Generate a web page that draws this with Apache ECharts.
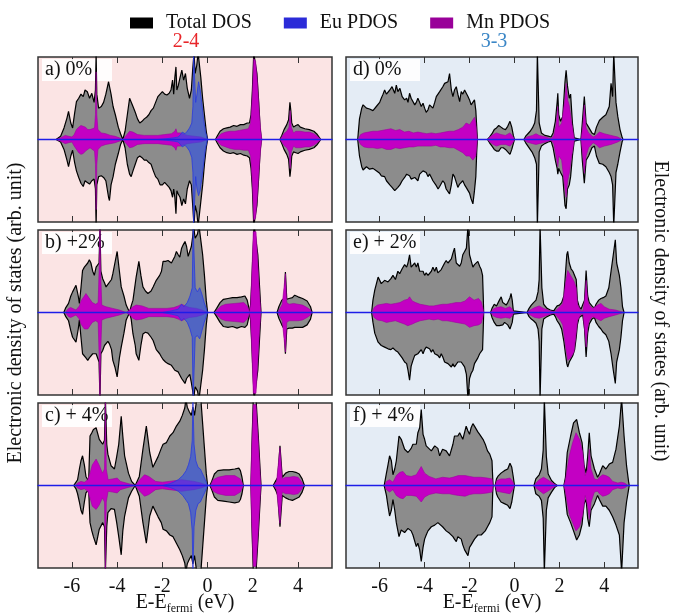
<!DOCTYPE html>
<html>
<head>
<meta charset="utf-8">
<script src="https://cdn.jsdelivr.net/npm/echarts@6/dist/echarts.min.js"></script>
<style>
  html, body { margin: 0; padding: 0; background: #fff; }
  #chart { width: 680px; height: 616px; }
</style>
</head>
<body>
<div id="chart"></div>
<script>
// energy ticks (eV)
const energyTicks = [-6, -4, -2, 0, 2, 4];
const legendNames = ['Total DOS', 'Eu PDOS', 'Mn PDOS'];
const groupTitles = ['2-4', '3-3'];
const panelLabels = ['a) 0%', 'b) +2%', 'c) + 4%', 'd) 0%', 'e) + 2%', 'f) + 4%'];

// each point: [energy, spin up, spin down] (arb. unit, 1 = panel half height)
const totalA = [[-6.7,0,0],[-6.5,0.04,0.03],[-6.35,0.14,0.12],[-6.22,0.26,0.25],[-6.15,0.34,0.33],[-6.05,0.2,0.2],[-5.97,0.14,0.13],[-5.88,0.32,0.28],[-5.8,0.46,0.38],[-5.7,0.5,0.46],[-5.6,0.55,0.53],[-5.5,0.52,0.57],[-5.42,0.6,0.5],[-5.32,0.58,0.52],[-5.22,0.5,0.54],[-5.12,0.56,0.5],[-5.02,0.45,0.48],[-4.96,0.6,0.6],[-4.93,1.05,1.05],[-4.9,0.55,0.55],[-4.82,0.38,0.45],[-4.7,0.4,0.44],[-4.6,0.45,0.46],[-4.5,0.55,0.5],[-4.38,0.7,0.7],[-4.34,0.72,0.74],[-4.27,0.55,0.55],[-4.18,0.4,0.45],[-4.08,0.3,0.3],[-3.95,0.15,0.17],[-3.85,0.07,0.06],[-3.75,0,0],[-3.65,0.1,0.1],[-3.55,0.3,0.3],[-3.45,0.5,0.42],[-3.38,0.48,0.45],[-3.3,0.4,0.38],[-3.2,0.33,0.3],[-3.1,0.25,0.22],[-3.0,0.2,0.2],[-2.9,0.22,0.22],[-2.8,0.25,0.25],[-2.7,0.27,0.25],[-2.6,0.3,0.28],[-2.5,0.35,0.3],[-2.4,0.38,0.38],[-2.3,0.45,0.45],[-2.2,0.52,0.48],[-2.1,0.55,0.55],[-2.0,0.58,0.55],[-1.9,0.55,0.52],[-1.8,0.54,0.55],[-1.7,0.56,0.58],[-1.62,0.6,0.62],[-1.55,0.72,0.7],[-1.5,0.55,0.6],[-1.45,0.75,0.7],[-1.4,0.88,0.9],[-1.36,0.6,0.62],[-1.3,0.65,0.66],[-1.22,0.75,0.7],[-1.14,0.84,0.8],[-1.06,0.72,0.72],[-0.98,0.8,0.78],[-0.9,0.62,0.6],[-0.8,0.5,0.5],[-0.72,0.6,0.55],[-0.66,0.85,0.8],[-0.6,1.05,1.05],[-0.55,0.8,0.8],[-0.48,0.9,0.88],[-0.42,1.05,1.05],[-0.36,1.05,1.05],[-0.3,0.75,0.75],[-0.22,0.5,0.55],[-0.14,0.3,0.3],[-0.06,0.1,0.1],[0,0,0],[0.35,0,0],[0.42,0.04,0.04],[0.55,0.1,0.1],[0.7,0.13,0.14],[0.85,0.14,0.16],[1.0,0.15,0.17],[1.15,0.17,0.16],[1.3,0.16,0.18],[1.45,0.18,0.17],[1.6,0.18,0.19],[1.75,0.2,0.2],[1.85,0.2,0.22],[1.92,0.3,0.35],[1.98,0.6,0.6],[2.04,1.05,1.05],[2.1,1.05,1.05],[2.18,0.8,0.8],[2.26,0.45,0.45],[2.32,0.15,0.15],[2.38,0,0],[3.2,0,0],[3.28,0.05,0.05],[3.38,0.12,0.12],[3.5,0.18,0.18],[3.58,0.24,0.24],[3.64,0.45,0.45],[3.68,0.35,0.35],[3.72,0.2,0.2],[3.8,0.15,0.15],[3.9,0.17,0.16],[4.0,0.18,0.17],[4.1,0.15,0.15],[4.3,0.13,0.13],[4.5,0.12,0.12],[4.7,0.1,0.1],[4.85,0.06,0.06],[4.95,0.02,0.02],[5.0,0,0]];
const mnA = [[-6.7,0,0],[-6.5,0.02,0.02],[-6.3,0.05,0.05],[-6.15,0.04,0.04],[-6.0,0.03,0.03],[-5.9,0.06,0.08],[-5.8,0.12,0.12],[-5.7,0.15,0.16],[-5.6,0.17,0.18],[-5.5,0.16,0.17],[-5.4,0.15,0.14],[-5.3,0.12,0.12],[-5.2,0.12,0.1],[-5.1,0.13,0.12],[-5.0,0.14,0.14],[-4.96,0.3,0.3],[-4.93,0.82,0.85],[-4.9,0.3,0.3],[-4.85,0.12,0.12],[-4.7,0.08,0.08],[-4.5,0.07,0.06],[-4.3,0.05,0.05],[-4.1,0.04,0.04],[-3.9,0.02,0.02],[-3.75,0,0],[-3.6,0.05,0.05],[-3.45,0.1,0.1],[-3.3,0.09,0.09],[-3.1,0.06,0.06],[-2.8,0.05,0.05],[-2.5,0.05,0.05],[-2.2,0.05,0.05],[-1.9,0.06,0.06],[-1.6,0.07,0.07],[-1.45,0.1,0.1],[-1.4,0.13,0.13],[-1.35,0.08,0.08],[-1.2,0.08,0.08],[-1.1,0.07,0.07],[-0.9,0.05,0.05],[-0.6,0.04,0.04],[-0.3,0.03,0.03],[0,0,0],[0.35,0,0],[0.45,0.03,0.03],[0.6,0.07,0.07],[0.8,0.09,0.09],[1.0,0.1,0.11],[1.2,0.1,0.12],[1.4,0.11,0.12],[1.6,0.12,0.13],[1.8,0.13,0.13],[1.9,0.2,0.2],[1.98,0.55,0.55],[2.04,0.98,0.98],[2.12,0.95,0.95],[2.2,0.7,0.7],[2.28,0.35,0.35],[2.35,0.1,0.1],[2.4,0,0],[3.2,0,0],[3.3,0.04,0.04],[3.4,0.08,0.08],[3.5,0.1,0.1],[3.6,0.15,0.15],[3.65,0.35,0.35],[3.7,0.15,0.15],[3.8,0.08,0.08],[3.9,0.1,0.1],[4.1,0.1,0.1],[4.3,0.09,0.09],[4.5,0.09,0.09],[4.7,0.07,0.07],[4.9,0.03,0.03],[5.0,0,0]];
const euA = [[-2.2,0,0],[-1.8,0.01,0.01],[-1.5,0.02,0.02],[-1.3,0.03,0.03],[-1.2,0.06,0.06],[-1.12,0.09,0.09],[-1.0,0.07,0.07],[-0.9,0.1,0.1],[-0.8,0.14,0.14],[-0.7,0.2,0.22],[-0.65,0.4,0.4],[-0.62,1.05,1.05],[-0.57,1.05,1.05],[-0.53,0.45,0.45],[-0.47,0.55,0.6],[-0.4,0.7,0.68],[-0.33,0.6,0.62],[-0.26,0.45,0.48],[-0.18,0.25,0.3],[-0.1,0.1,0.12],[-0.03,0.03,0.03],[0,0,0]];

const totalB = [[-6.36,0,0],[-6.27,0.06,0.05],[-6.15,0.11,0.1],[-6.05,0.2,0.22],[-5.97,0.25,0.3],[-5.82,0.33,0.36],[-5.72,0.2,0.2],[-5.67,0.11,0.09],[-5.6,0.3,0.3],[-5.53,0.51,0.5],[-5.45,0.55,0.52],[-5.38,0.57,0.55],[-5.3,0.6,0.58],[-5.23,0.64,0.55],[-5.16,0.6,0.54],[-5.08,0.5,0.5],[-5.01,0.45,0.5],[-4.93,0.55,0.5],[-4.86,0.56,0.49],[-4.8,0.6,0.6],[-4.76,1.05,1.05],[-4.72,0.5,0.5],[-4.64,0.41,0.46],[-4.56,0.36,0.4],[-4.49,0.31,0.38],[-4.41,0.34,0.35],[-4.34,0.33,0.38],[-4.25,0.4,0.45],[-4.19,0.47,0.58],[-4.1,0.6,0.66],[-4.0,0.74,0.78],[-3.9,0.5,0.55],[-3.82,0.31,0.42],[-3.7,0.2,0.25],[-3.6,0.09,0.09],[-3.45,0,0],[-3.38,0.08,0.08],[-3.3,0.15,0.26],[-3.2,0.35,0.4],[-3.16,0.43,0.5],[-3.04,0.62,0.58],[-2.95,0.45,0.4],[-2.86,0.31,0.26],[-2.75,0.26,0.24],[-2.64,0.23,0.25],[-2.5,0.26,0.3],[-2.41,0.31,0.34],[-2.27,0.39,0.45],[-2.12,0.45,0.5],[-2.04,0.5,0.54],[-1.97,0.62,0.57],[-1.86,0.62,0.6],[-1.75,0.63,0.62],[-1.67,0.63,0.64],[-1.6,0.6,0.64],[-1.53,0.59,0.66],[-1.45,0.68,0.7],[-1.38,0.74,0.7],[-1.3,0.7,0.72],[-1.23,0.67,0.74],[-1.15,0.78,0.8],[-1.08,0.82,0.82],[-1.0,0.86,0.86],[-0.93,0.8,0.8],[-0.86,0.68,0.78],[-0.79,0.7,0.75],[-0.72,0.8,0.85],[-0.66,0.92,0.95],[-0.62,1.05,1.05],[-0.55,0.9,0.9],[-0.45,0.95,0.95],[-0.38,1.05,1.05],[-0.3,1.05,1.05],[-0.22,0.7,0.7],[-0.14,0.45,0.45],[-0.06,0.15,0.15],[0,0,0],[0.28,0,0],[0.4,0.05,0.05],[0.55,0.12,0.12],[0.7,0.16,0.17],[0.9,0.17,0.18],[1.1,0.18,0.17],[1.3,0.18,0.19],[1.5,0.19,0.17],[1.65,0.2,0.18],[1.75,0.15,0.15],[1.83,0.05,0.05],[1.88,0,0],[1.94,0.3,0.3],[2.0,0.7,0.7],[2.06,1.05,1.05],[2.14,1.05,1.05],[2.22,0.7,0.7],[2.3,0.3,0.3],[2.36,0,0],[3.07,0,0],[3.15,0.07,0.07],[3.28,0.15,0.15],[3.38,0.17,0.2],[3.44,0.49,0.5],[3.5,0.16,0.2],[3.6,0.17,0.19],[3.75,0.18,0.19],[3.85,0.21,0.18],[4.0,0.19,0.18],[4.2,0.17,0.18],[4.4,0.14,0.15],[4.55,0.07,0.08],[4.62,0,0]];
const mnB = [[-6.3,0,0],[-6.15,0.05,0.05],[-6.05,0.06,0.06],[-5.97,0.06,0.06],[-5.82,0.03,0.03],[-5.67,0.08,0.08],[-5.6,0.14,0.14],[-5.53,0.17,0.17],[-5.45,0.2,0.2],[-5.38,0.23,0.22],[-5.3,0.2,0.2],[-5.23,0.19,0.18],[-5.1,0.12,0.12],[-4.95,0.1,0.1],[-4.84,0.12,0.12],[-4.79,0.6,0.6],[-4.76,1.05,1.05],[-4.73,0.5,0.5],[-4.68,0.09,0.09],[-4.5,0.07,0.07],[-4.2,0.05,0.05],[-3.9,0.03,0.03],[-3.6,0,0],[-3.45,0.03,0.03],[-3.3,0.07,0.07],[-3.16,0.09,0.09],[-2.9,0.08,0.08],[-2.6,0.05,0.05],[-2.2,0.05,0.05],[-1.8,0.05,0.05],[-1.5,0.06,0.06],[-1.3,0.08,0.08],[-1.15,0.1,0.1],[-1.0,0.08,0.08],[-0.8,0.06,0.06],[-0.5,0.05,0.05],[-0.25,0.03,0.03],[0,0,0],[0.3,0,0],[0.45,0.04,0.04],[0.6,0.08,0.08],[0.8,0.1,0.1],[1.2,0.11,0.11],[1.6,0.12,0.12],[1.75,0.08,0.08],[1.85,0.01,0.01],[1.9,0.1,0.1],[1.96,0.5,0.5],[2.02,0.98,0.98],[2.14,0.98,0.98],[2.22,0.6,0.6],[2.3,0.2,0.2],[2.36,0,0],[3.1,0,0],[3.2,0.05,0.05],[3.3,0.1,0.1],[3.38,0.11,0.12],[3.44,0.47,0.48],[3.5,0.12,0.12],[3.6,0.1,0.1],[3.8,0.11,0.1],[4.0,0.1,0.1],[4.2,0.09,0.09],[4.4,0.06,0.06],[4.55,0.03,0.03],[4.6,0,0]];
const euB = [[-2.0,0,0],[-1.6,0.02,0.02],[-1.3,0.04,0.04],[-1.15,0.1,0.1],[-1.05,0.07,0.07],[-0.9,0.12,0.12],[-0.78,0.2,0.2],[-0.68,0.3,0.3],[-0.64,1.05,1.05],[-0.6,1.05,1.05],[-0.55,0.3,0.3],[-0.45,0.25,0.28],[-0.35,0.3,0.32],[-0.25,0.22,0.22],[-0.15,0.12,0.12],[-0.05,0.04,0.04],[0,0,0]];

const totalC = [[-5.92,0,0],[-5.82,0.04,0.04],[-5.75,0.07,0.1],[-5.67,0.2,0.2],[-5.6,0.3,0.3],[-5.53,0.36,0.35],[-5.45,0.25,0.2],[-5.38,0.11,0.09],[-5.26,0.05,0.05],[-5.2,0.6,0.45],[-5.12,0.64,0.55],[-5.05,0.68,0.62],[-4.93,0.7,0.72],[-4.86,0.68,0.7],[-4.79,0.56,0.53],[-4.64,0.5,0.45],[-4.56,0.55,0.5],[-4.52,1.05,1.05],[-4.46,0.5,0.5],[-4.41,0.38,0.33],[-4.27,0.24,0.28],[-4.12,0.2,0.29],[-4.02,0.35,0.45],[-3.93,0.5,0.62],[-3.82,0.84,0.84],[-3.75,0.6,0.55],[-3.67,0.36,0.37],[-3.5,0.15,0.15],[-3.36,0.05,0.07],[-3.2,0,0],[-3.02,0.11,0.13],[-2.86,0.44,0.45],[-2.71,0.72,0.7],[-2.56,0.4,0.37],[-2.42,0.22,0.25],[-2.34,0.21,0.25],[-2.19,0.35,0.38],[-2.05,0.45,0.45],[-1.97,0.5,0.53],[-1.82,0.52,0.55],[-1.67,0.6,0.6],[-1.53,0.64,0.62],[-1.38,0.72,0.7],[-1.23,0.78,0.78],[-1.12,0.85,0.85],[-1.01,0.94,0.94],[-0.96,1.05,1.05],[-0.9,0.95,0.95],[-0.82,0.9,0.9],[-0.72,0.85,0.85],[-0.65,0.95,0.95],[-0.58,0.85,0.85],[-0.48,1.05,1.05],[-0.4,1.05,1.05],[-0.3,1.05,1.05],[-0.22,0.75,0.75],[-0.14,0.45,0.45],[-0.06,0.15,0.15],[0,0,0],[0.1,0,0],[0.18,0.05,0.05],[0.3,0.14,0.14],[0.45,0.18,0.18],[0.7,0.19,0.19],[0.95,0.19,0.2],[1.2,0.2,0.21],[1.38,0.21,0.2],[1.45,0.18,0.17],[1.52,0.1,0.1],[1.58,0,0],[1.92,0,0],[1.96,0.5,0.5],[2.02,1.05,1.05],[2.14,1.05,1.05],[2.24,0.6,0.6],[2.32,0.2,0.2],[2.36,0,0],[2.9,0,0],[3.0,0.05,0.05],[3.1,0.1,0.12],[3.2,0.48,0.5],[3.3,0.1,0.12],[3.45,0.15,0.15],[3.6,0.17,0.17],[3.75,0.17,0.18],[3.9,0.16,0.16],[4.05,0.14,0.14],[4.18,0.08,0.08],[4.28,0,0]];
const mnC = [[-5.85,0,0],[-5.75,0.03,0.03],[-5.6,0.05,0.05],[-5.45,0.04,0.04],[-5.3,0.07,0.07],[-5.2,0.15,0.15],[-5.1,0.25,0.25],[-4.93,0.32,0.29],[-4.8,0.25,0.24],[-4.65,0.15,0.15],[-4.56,0.2,0.2],[-4.52,1.05,1.05],[-4.48,0.2,0.2],[-4.4,0.07,0.07],[-4.2,0.08,0.08],[-4.0,0.09,0.09],[-3.85,0.05,0.05],[-3.6,0.03,0.03],[-3.2,0,0],[-3.0,0.07,0.07],[-2.79,0.13,0.13],[-2.6,0.11,0.11],[-2.3,0.05,0.05],[-2.0,0.04,0.04],[-1.7,0.05,0.05],[-1.4,0.06,0.06],[-1.15,0.07,0.07],[-0.9,0.06,0.06],[-0.6,0.05,0.05],[-0.3,0.03,0.03],[0,0,0],[0.12,0,0],[0.25,0.07,0.07],[0.45,0.1,0.1],[0.8,0.12,0.12],[1.2,0.12,0.12],[1.45,0.08,0.08],[1.58,0,0],[1.9,0,0],[1.95,0.45,0.45],[2.02,0.98,0.98],[2.14,0.98,0.98],[2.24,0.55,0.55],[2.32,0.15,0.15],[2.36,0,0],[2.92,0,0],[3.05,0.05,0.05],[3.2,0.46,0.46],[3.3,0.08,0.08],[3.45,0.1,0.1],[3.6,0.1,0.1],[3.8,0.11,0.11],[4.0,0.1,0.1],[4.15,0.05,0.05],[4.25,0,0]];
const euC = [[-2.0,0,0],[-1.7,0.02,0.02],[-1.5,0.04,0.04],[-1.3,0.07,0.07],[-1.1,0.12,0.12],[-0.95,0.18,0.18],[-0.85,0.25,0.22],[-0.75,0.35,0.33],[-0.68,0.55,0.55],[-0.65,1.05,1.05],[-0.6,0.5,0.5],[-0.52,0.3,0.3],[-0.42,0.22,0.22],[-0.32,0.2,0.2],[-0.22,0.14,0.14],[-0.12,0.08,0.08],[0,0,0]];

const totalD = [[-6.98,0,0],[-6.9,0.25,0.2],[-6.8,0.38,0.33],[-6.74,0.42,0.37],[-6.59,0.38,0.33],[-6.45,0.37,0.36],[-6.3,0.35,0.35],[-6.15,0.4,0.38],[-6.0,0.45,0.41],[-5.93,0.5,0.44],[-5.85,0.55,0.45],[-5.78,0.6,0.45],[-5.7,0.55,0.5],[-5.63,0.54,0.52],[-5.55,0.6,0.55],[-5.45,0.64,0.58],[-5.33,0.56,0.62],[-5.26,0.66,0.6],[-5.19,0.58,0.58],[-5.1,0.62,0.55],[-5.0,0.52,0.5],[-4.89,0.48,0.46],[-4.8,0.5,0.42],[-4.74,0.45,0.4],[-4.67,0.56,0.44],[-4.6,0.5,0.48],[-4.52,0.48,0.5],[-4.44,0.42,0.46],[-4.37,0.45,0.48],[-4.3,0.5,0.5],[-4.22,0.45,0.42],[-4.15,0.4,0.4],[-4.07,0.44,0.38],[-4.0,0.38,0.37],[-3.93,0.33,0.4],[-3.85,0.36,0.45],[-3.78,0.42,0.42],[-3.7,0.44,0.46],[-3.63,0.38,0.5],[-3.55,0.45,0.52],[-3.48,0.52,0.56],[-3.4,0.5,0.6],[-3.33,0.58,0.57],[-3.26,0.6,0.55],[-3.19,0.64,0.5],[-3.11,0.68,0.53],[-3.04,0.66,0.6],[-2.96,0.7,0.62],[-2.89,0.8,0.66],[-2.81,0.6,0.55],[-2.74,0.52,0.42],[-2.67,0.6,0.45],[-2.59,0.64,0.52],[-2.52,0.55,0.58],[-2.44,0.46,0.54],[-2.37,0.58,0.56],[-2.3,0.55,0.5],[-2.22,0.6,0.55],[-2.15,0.6,0.58],[-2.07,0.52,0.6],[-2.0,0.48,0.65],[-1.93,0.42,0.72],[-1.85,0.4,0.78],[-1.78,0.48,0.62],[-1.72,0.35,0.45],[-1.68,0.15,0.15],[-1.65,0,0],[-1.2,0,0],[-1.11,0.03,0.04],[-1.0,0.07,0.08],[-0.9,0.12,0.12],[-0.8,0.14,0.14],[-0.7,0.17,0.14],[-0.6,0.15,0.1],[-0.5,0.13,0.1],[-0.4,0.12,0.12],[-0.3,0.16,0.15],[-0.2,0.22,0.18],[-0.12,0.15,0.12],[-0.05,0.05,0.05],[0,0,0],[0.42,0,0],[0.5,0.04,0.04],[0.6,0.07,0.08],[0.7,0.1,0.12],[0.8,0.14,0.16],[0.9,0.2,0.22],[0.98,0.35,0.3],[1.02,1.05,1.05],[1.06,1.05,1.05],[1.1,0.2,0.15],[1.2,0.08,0.08],[1.35,0.05,0.05],[1.5,0.04,0.03],[1.63,0.03,0.02],[1.72,0.08,0.1],[1.82,0.22,0.25],[1.9,0.45,0.35],[1.93,0.56,0.42],[1.97,0.3,0.35],[2.05,0.22,0.4],[2.15,0.28,0.45],[2.25,0.7,0.8],[2.3,0.84,0.84],[2.36,0.65,0.6],[2.44,0.5,0.55],[2.5,0.55,0.45],[2.58,0.2,0.2],[2.66,0.02,0.02],[2.7,0,0],[2.96,0,0],[3.02,0.2,0.25],[3.11,0.52,0.53],[3.19,0.2,0.25],[3.3,0.15,0.2],[3.45,0.08,0.1],[3.56,0.06,0.08],[3.65,0.15,0.2],[3.78,0.23,0.29],[3.93,0.27,0.3],[4.07,0.3,0.33],[4.22,0.4,0.4],[4.3,0.68,0.45],[4.37,0.52,0.55],[4.42,1.05,1.05],[4.47,1.05,1.05],[4.52,0.45,0.4],[4.6,0.28,0.3],[4.7,0.12,0.15],[4.8,0.02,0.02],[4.83,0,0]];
const mnD = [[-6.96,0,0],[-6.85,0.06,0.06],[-6.7,0.08,0.09],[-6.5,0.09,0.1],[-6.3,0.1,0.1],[-6.1,0.1,0.11],[-5.9,0.11,0.1],[-5.7,0.12,0.12],[-5.5,0.13,0.12],[-5.3,0.11,0.1],[-5.1,0.12,0.11],[-4.9,0.09,0.1],[-4.7,0.1,0.09],[-4.5,0.08,0.09],[-4.3,0.09,0.08],[-4.1,0.08,0.08],[-3.9,0.07,0.08],[-3.7,0.08,0.08],[-3.5,0.07,0.07],[-3.3,0.08,0.09],[-3.1,0.09,0.09],[-2.9,0.1,0.1],[-2.7,0.1,0.1],[-2.5,0.12,0.13],[-2.3,0.15,0.16],[-2.15,0.2,0.2],[-2.0,0.18,0.2],[-1.85,0.24,0.25],[-1.78,0.27,0.26],[-1.72,0.2,0.2],[-1.67,0.05,0.05],[-1.65,0,0],[-1.2,0,0],[-1.1,0.03,0.03],[-0.95,0.06,0.06],[-0.8,0.08,0.08],[-0.6,0.06,0.06],[-0.4,0.05,0.06],[-0.2,0.08,0.08],[-0.05,0.03,0.03],[0,0,0],[0.42,0,0],[0.55,0.03,0.03],[0.8,0.05,0.05],[0.96,0.07,0.06],[1.1,0.05,0.05],[1.4,0.03,0.03],[1.63,0.01,0.01],[1.75,0.05,0.05],[1.85,0.17,0.2],[1.93,0.4,0.33],[1.98,0.15,0.2],[2.1,0.2,0.25],[2.25,0.5,0.6],[2.3,0.68,0.7],[2.37,0.48,0.5],[2.45,0.4,0.4],[2.55,0.2,0.2],[2.67,0,0],[2.96,0,0],[3.04,0.16,0.2],[3.11,0.42,0.41],[3.19,0.14,0.2],[3.3,0.08,0.1],[3.5,0.03,0.04],[3.63,0.05,0.06],[3.78,0.09,0.1],[4.0,0.07,0.08],[4.3,0.05,0.06],[4.6,0.03,0.03],[4.8,0,0]];

const totalE = [[-6.36,0,0],[-6.3,0.15,0.12],[-6.22,0.27,0.25],[-6.07,0.43,0.36],[-5.93,0.35,0.4],[-5.78,0.39,0.42],[-5.63,0.37,0.44],[-5.5,0.41,0.45],[-5.41,0.45,0.43],[-5.3,0.4,0.46],[-5.19,0.5,0.48],[-5.11,0.47,0.5],[-5.0,0.53,0.55],[-4.89,0.58,0.6],[-4.8,0.55,0.62],[-4.74,0.6,0.7],[-4.67,0.7,0.82],[-4.6,0.55,0.65],[-4.52,0.55,0.58],[-4.44,0.6,0.52],[-4.37,0.55,0.5],[-4.3,0.6,0.5],[-4.22,0.5,0.48],[-4.15,0.52,0.45],[-4.07,0.5,0.5],[-4.0,0.45,0.45],[-3.93,0.48,0.42],[-3.85,0.45,0.4],[-3.78,0.47,0.44],[-3.7,0.5,0.48],[-3.63,0.55,0.45],[-3.55,0.5,0.5],[-3.48,0.55,0.5],[-3.41,0.48,0.52],[-3.33,0.5,0.55],[-3.26,0.52,0.5],[-3.19,0.54,0.54],[-3.11,0.6,0.6],[-3.04,0.63,0.58],[-2.96,0.6,0.62],[-2.89,0.62,0.64],[-2.81,0.65,0.66],[-2.74,0.72,0.62],[-2.67,0.78,0.66],[-2.59,0.6,0.64],[-2.52,0.62,0.6],[-2.44,0.56,0.58],[-2.37,0.6,0.6],[-2.3,0.7,0.62],[-2.22,0.74,0.66],[-2.14,0.78,0.75],[-2.07,1.05,1.05],[-2.0,0.7,0.8],[-1.93,0.68,0.74],[-1.85,0.55,0.7],[-1.78,0.58,0.62],[-1.7,0.6,0.6],[-1.63,0.62,0.55],[-1.55,0.56,0.5],[-1.48,0.52,0.5],[-1.42,0.45,0.45],[-1.39,0.2,0.2],[-1.37,0,0],[-1.06,0,0],[-1.0,0.05,0.06],[-0.9,0.1,0.12],[-0.8,0.08,0.16],[-0.74,0.09,0.17],[-0.67,0.15,0.16],[-0.59,0.19,0.18],[-0.52,0.12,0.15],[-0.44,0.1,0.12],[-0.37,0.09,0.13],[-0.3,0.12,0.15],[-0.2,0.18,0.2],[-0.15,0.23,0.22],[-0.1,0.15,0.12],[-0.05,0.02,0.02],[-0.03,0,0],[0.56,0,0],[0.65,0.05,0.05],[0.75,0.09,0.08],[0.85,0.12,0.1],[0.96,0.15,0.13],[1.05,0.25,0.2],[1.1,0.4,0.35],[1.14,1.05,1.05],[1.18,1.05,1.05],[1.22,0.3,0.2],[1.3,0.1,0.08],[1.45,0.05,0.05],[1.6,0.03,0.03],[1.75,0.02,0.02],[1.82,0.05,0.05],[1.9,0.08,0.1],[2.0,0.09,0.14],[2.1,0.12,0.2],[2.2,0.2,0.35],[2.27,0.47,0.5],[2.33,0.7,0.62],[2.37,0.74,0.66],[2.44,0.6,0.6],[2.52,0.53,0.58],[2.6,0.5,0.52],[2.68,0.48,0.45],[2.75,0.4,0.3],[2.8,0.15,0.15],[2.88,0.07,0.06],[2.96,0.04,0.04],[3.04,0.03,0.03],[3.12,0.15,0.2],[3.19,0.51,0.54],[3.26,0.2,0.25],[3.33,0.12,0.14],[3.45,0.08,0.08],[3.56,0.05,0.06],[3.63,0.1,0.12],[3.75,0.15,0.17],[3.85,0.17,0.2],[3.95,0.18,0.24],[4.07,0.2,0.27],[4.2,0.3,0.35],[4.3,0.5,0.5],[4.4,0.7,0.7],[4.49,0.88,0.86],[4.55,0.6,0.6],[4.67,0.45,0.45],[4.74,0.3,0.3],[4.81,0.07,0.1],[4.88,0,0]];
const mnE = [[-6.33,0,0],[-6.25,0.06,0.06],[-6.1,0.09,0.09],[-5.9,0.1,0.1],[-5.7,0.11,0.12],[-5.5,0.1,0.11],[-5.3,0.11,0.1],[-5.1,0.12,0.12],[-4.9,0.15,0.14],[-4.75,0.16,0.16],[-4.67,0.19,0.18],[-4.55,0.14,0.14],[-4.4,0.12,0.12],[-4.2,0.1,0.1],[-4.0,0.09,0.09],[-3.8,0.08,0.08],[-3.6,0.08,0.09],[-3.4,0.09,0.08],[-3.2,0.1,0.1],[-3.0,0.1,0.1],[-2.8,0.11,0.11],[-2.6,0.12,0.12],[-2.4,0.12,0.13],[-2.2,0.14,0.14],[-2.0,0.19,0.18],[-1.8,0.15,0.16],[-1.6,0.17,0.15],[-1.48,0.13,0.13],[-1.4,0.05,0.05],[-1.37,0,0],[-1.06,0,0],[-0.95,0.04,0.04],[-0.8,0.06,0.06],[-0.6,0.07,0.07],[-0.4,0.05,0.06],[-0.2,0.07,0.07],[-0.08,0.03,0.03],[-0.03,0,0],[0.56,0,0],[0.7,0.03,0.03],[0.9,0.06,0.06],[1.1,0.08,0.07],[1.3,0.05,0.05],[1.6,0.02,0.02],[1.78,0.01,0.01],[1.9,0.04,0.05],[2.05,0.08,0.1],[2.15,0.11,0.15],[2.27,0.35,0.4],[2.37,0.51,0.58],[2.5,0.45,0.55],[2.65,0.38,0.48],[2.75,0.3,0.25],[2.81,0.1,0.1],[2.96,0.02,0.02],[3.05,0.02,0.02],[3.12,0.15,0.2],[3.19,0.39,0.42],[3.26,0.15,0.18],[3.33,0.09,0.1],[3.48,0.05,0.05],[3.56,0.04,0.04],[3.7,0.09,0.08],[3.85,0.11,0.1],[4.0,0.07,0.07],[4.22,0.04,0.05],[4.5,0.03,0.03],[4.75,0.01,0.01],[4.88,0,0]];

const totalF = [[-5.8,0,0],[-5.7,0.15,0.12],[-5.63,0.25,0.25],[-5.56,0.36,0.37],[-5.48,0.3,0.3],[-5.41,0.13,0.17],[-5.33,0.2,0.3],[-5.26,0.3,0.45],[-5.14,0.6,0.62],[-5.04,0.56,0.54],[-4.89,0.44,0.57],[-4.74,0.4,0.52],[-4.6,0.45,0.55],[-4.52,0.5,0.6],[-4.37,0.5,0.74],[-4.3,0.64,0.7],[-4.22,0.7,0.78],[-4.15,0.92,0.92],[-4.07,0.62,0.75],[-4.0,0.56,0.65],[-3.93,0.48,0.6],[-3.85,0.5,0.55],[-3.7,0.42,0.5],[-3.55,0.48,0.48],[-3.41,0.45,0.45],[-3.33,0.36,0.45],[-3.2,0.44,0.5],[-3.04,0.42,0.55],[-2.89,0.36,0.58],[-2.74,0.5,0.62],[-2.67,0.6,0.65],[-2.59,0.62,0.68],[-2.52,0.6,0.62],[-2.44,0.64,0.6],[-2.37,0.6,0.65],[-2.3,0.56,0.72],[-2.22,0.55,0.78],[-2.15,0.72,0.8],[-2.07,0.66,0.85],[-2.0,0.62,0.75],[-1.93,0.7,0.72],[-1.85,0.75,0.7],[-1.78,0.72,0.65],[-1.7,0.7,0.66],[-1.63,0.65,0.6],[-1.55,0.62,0.62],[-1.48,0.64,0.6],[-1.4,0.56,0.58],[-1.3,0.5,0.55],[-1.2,0.42,0.5],[-1.1,0.38,0.45],[-1.0,0.3,0.38],[-0.97,0.1,0.1],[-0.95,0,0],[-0.86,0,0],[-0.8,0.08,0.1],[-0.74,0.11,0.14],[-0.6,0.15,0.2],[-0.45,0.18,0.22],[-0.3,0.2,0.24],[-0.2,0.27,0.28],[-0.12,0.22,0.2],[-0.05,0.1,0.08],[0,0,0],[0.87,0,0],[0.95,0.08,0.1],[1.1,0.13,0.13],[1.2,0.2,0.18],[1.28,0.43,0.4],[1.33,1.05,1.05],[1.37,1.05,1.05],[1.42,0.35,0.3],[1.5,0.14,0.15],[1.65,0.06,0.08],[1.8,0.02,0.02],[1.9,0,0],[2.2,0,0],[2.27,0.1,0.15],[2.35,0.4,0.35],[2.5,0.6,0.45],[2.63,0.76,0.55],[2.77,0.8,0.66],[2.89,0.64,0.6],[3.01,0.52,0.47],[3.1,0.24,0.22],[3.19,0.15,0.17],[3.26,0.35,0.4],[3.33,0.64,0.5],[3.41,0.36,0.3],[3.56,0.2,0.22],[3.7,0.1,0.12],[3.78,0.14,0.17],[3.93,0.24,0.25],[4.07,0.2,0.25],[4.22,0.26,0.3],[4.37,0.28,0.38],[4.52,0.44,0.48],[4.67,0.72,0.6],[4.77,1.05,1.05],[4.81,1.05,1.05],[4.88,0.6,0.45],[4.99,0.24,0.2],[5.08,0.05,0.05],[5.11,0,0]];
const mnF = [[-5.78,0,0],[-5.7,0.05,0.05],[-5.56,0.07,0.08],[-5.41,0.04,0.05],[-5.26,0.12,0.12],[-5.1,0.16,0.15],[-4.96,0.17,0.16],[-4.81,0.12,0.12],[-4.6,0.11,0.12],[-4.37,0.13,0.13],[-4.15,0.23,0.2],[-4.0,0.15,0.14],[-3.8,0.11,0.11],[-3.5,0.08,0.09],[-3.2,0.1,0.1],[-2.9,0.09,0.1],[-2.74,0.1,0.11],[-2.5,0.12,0.12],[-2.2,0.12,0.13],[-2.0,0.11,0.11],[-1.8,0.1,0.1],[-1.5,0.1,0.1],[-1.2,0.09,0.09],[-1.0,0.08,0.08],[-0.96,0,0],[-0.86,0,0],[-0.78,0.06,0.07],[-0.6,0.08,0.08],[-0.4,0.08,0.09],[-0.2,0.09,0.1],[-0.08,0.05,0.05],[0,0,0],[0.89,0,0],[0.96,0.03,0.03],[1.1,0.07,0.06],[1.29,0.1,0.1],[1.48,0.07,0.07],[1.7,0.03,0.03],[1.9,0,0],[2.2,0,0],[2.27,0.07,0.08],[2.44,0.36,0.35],[2.59,0.52,0.45],[2.74,0.64,0.55],[2.9,0.56,0.5],[3.04,0.4,0.35],[3.15,0.12,0.12],[3.26,0.2,0.25],[3.33,0.44,0.41],[3.41,0.2,0.2],[3.56,0.08,0.08],[3.7,0.07,0.07],[3.78,0.1,0.1],[3.93,0.13,0.13],[4.07,0.12,0.12],[4.22,0.1,0.1],[4.37,0.05,0.05],[4.6,0.03,0.03],[4.75,0.04,0.04],[4.9,0.03,0.03],[5.05,0,0]];

const FONT = 'Liberation Serif';
const chart = echarts.init(document.getElementById('chart'));

const panels = [
  { total: totalA, mn: mnA, eu: euA, col: 0, row: 0 },
  { total: totalB, mn: mnB, eu: euB, col: 0, row: 1 },
  { total: totalC, mn: mnC, eu: euC, col: 0, row: 2 },
  { total: totalD, mn: mnD, eu: null, col: 1, row: 0 },
  { total: totalE, mn: mnE, eu: null, col: 1, row: 1 },
  { total: totalF, mn: mnF, eu: null, col: 1, row: 2 }
];
const colLeft = [38, 346], colWidth = [294, 292], colBg = ['#fbe4e4', '#e4ecf5'];
const rowTop = [57, 230, 403], rowHeight = 165;

const grid = [], xAxis = [], yAxis = [], series = [], graphic = [];

function spin(arr, k, sign) {
  return arr.map(p => [p[0], sign * p[k]]);
}

panels.forEach((p, i) => {
  grid.push({
    left: colLeft[p.col], top: rowTop[p.row], width: colWidth[p.col], height: rowHeight,
    show: true, backgroundColor: colBg[p.col], borderColor: '#333', borderWidth: 1.5
  });
  const tick = { show: true, inside: true, length: 6, customValues: energyTicks, lineStyle: { color: '#333', width: 1 } };
  // data axis, bottom ticks and labels
  xAxis.push({
    type: 'value', gridIndex: i, min: -7.5, max: 5.5, position: 'bottom',
    axisLine: { show: false, onZero: false }, splitLine: { show: false }, axisTick: tick,
    axisLabel: { show: p.row === 2, customValues: energyTicks, margin: 9, fontSize: 20, fontFamily: FONT, color: '#111' }
  });
  // top ticks
  xAxis.push({
    type: 'value', gridIndex: i, min: -7.5, max: 5.5, position: 'top',
    axisLine: { show: false, onZero: false }, splitLine: { show: false }, axisTick: tick,
    axisLabel: { show: false }
  });
  // blue zero line, drawn above the fills
  xAxis.push({
    type: 'value', gridIndex: i, min: -7.5, max: 5.5, position: 'bottom', z: 10,
    axisLine: { show: true, onZero: true, lineStyle: { color: '#1d1de8', width: 1.3 } },
    axisTick: { show: false }, axisLabel: { show: false }, splitLine: { show: false }
  });
  yAxis.push({ type: 'value', gridIndex: i, min: -1, max: 1, show: false });

  const base = { type: 'line', xAxisIndex: i * 3, yAxisIndex: i, symbol: 'none', silent: true, animation: false };
  [1, 2].forEach(k => {
    series.push(Object.assign({}, base, {
      name: 'Total DOS', data: spin(p.total, k, k === 1 ? 1 : -1), z: 2,
      itemStyle: { color: '#000' },
      lineStyle: { color: '#000', width: 1.2 },
      areaStyle: { color: '#8c8c8c', opacity: 1 }
    }));
  });
  [1, 2].forEach(k => {
    series.push(Object.assign({}, base, {
      name: 'Mn PDOS', data: spin(p.mn, k, k === 1 ? 1 : -1), z: 3,
      itemStyle: { color: '#990099' },
      lineStyle: { color: '#a000a0', width: 0.6 },
      areaStyle: { color: '#c300c3', opacity: 1 }
    }));
  });
  if (p.eu) {
    [1, 2].forEach(k => {
      series.push(Object.assign({}, base, {
        name: 'Eu PDOS', data: spin(p.eu, k, k === 1 ? 1 : -1), z: 4,
        itemStyle: { color: '#2b2bd8' },
        lineStyle: { color: '#2a3ae0', width: 0.8 },
        areaStyle: { color: '#3050e0', opacity: 0.65 }
      }));
    });
  }

  // panel label box
  const lx = colLeft[p.col] + 4, ly = rowTop[p.row] + 2;
  graphic.push({
    type: 'rect', z: 1, shape: { x: lx, y: ly, width: 70, height: 22 },
    style: { fill: 'rgba(255,255,255,0.9)' }
  });
  graphic.push({
    type: 'text', z: 1, x: lx + 3, y: ly + 11,
    style: { text: panelLabels[i], fontSize: 20, fontFamily: FONT, fill: '#111', verticalAlign: 'middle' }
  });
});

// group titles
graphic.push({ type: 'text', x: 186, y: 42, style: { text: groupTitles[0], fontSize: 20, fontFamily: FONT, fill: '#e8262a', align: 'center', verticalAlign: 'middle' } });
graphic.push({ type: 'text', x: 494, y: 42, style: { text: groupTitles[1], fontSize: 20, fontFamily: FONT, fill: '#3a86c6', align: 'center', verticalAlign: 'middle' } });

// x axis titles
[185, 492].forEach(cx => {
  graphic.push({
    type: 'text', x: cx, y: 603,
    style: {
      text: '{a|E-E}{s|fermi}{a| (eV)}', align: 'center', verticalAlign: 'middle',
      rich: {
        a: { fontSize: 20, fontFamily: FONT, fill: '#111' },
        s: { fontSize: 12, fontFamily: FONT, fill: '#111', padding: [11, 0, 0, 0] }
      }
    }
  });
});

// y axis titles
graphic.push({
  type: 'text', x: 16, y: 313, rotation: Math.PI / 2,
  style: { text: 'Electronic density of states (arb. unit)', fontSize: 20, fontFamily: FONT, fill: '#111', align: 'center', verticalAlign: 'middle' }
});
graphic.push({
  type: 'text', x: 660, y: 311, rotation: -Math.PI / 2,
  style: { text: 'Electronic density of states (arb. unit)', fontSize: 20, fontFamily: FONT, fill: '#111', align: 'center', verticalAlign: 'middle' }
});

chart.setOption({
  animation: false,
  legend: {
    top: 8, left: 125, itemWidth: 23, itemHeight: 11, itemGap: 32,
    selectedMode: false,
    textStyle: { fontSize: 20, fontFamily: FONT, color: '#111', padding: [0, 0, 0, 8] },
    data: [
      { name: legendNames[0], icon: 'rect', itemStyle: { color: '#000', borderWidth: 0 } },
      { name: legendNames[1], icon: 'rect', itemStyle: { color: '#2b2bd8', borderWidth: 0 } },
      { name: legendNames[2], icon: 'rect', itemStyle: { color: '#990099', borderWidth: 0 } }
    ]
  },
  grid: grid,
  xAxis: xAxis,
  yAxis: yAxis,
  series: series,
  graphic: graphic
});
</script>
</body>
</html>
